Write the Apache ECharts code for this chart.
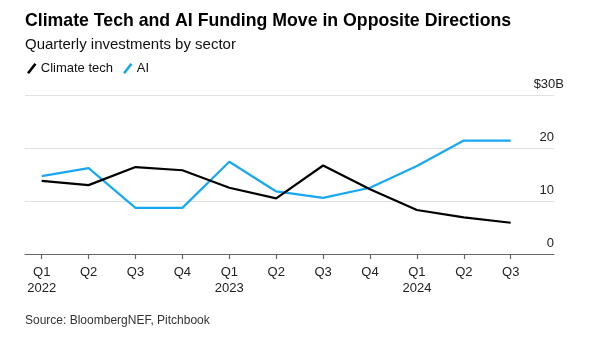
<!DOCTYPE html>
<html><head><meta charset="utf-8">
<script src="https://cdn.jsdelivr.net/npm/echarts@6/dist/echarts.min.js"></script>
<style>html,body{margin:0;padding:0;background:#fff}#c{width:600px;height:345px}</style>
</head><body><div id="c"></div>
<script>
const quarters = ['Q1','Q2','Q3','Q4','Q1','Q2','Q3','Q4','Q1','Q2','Q3'];
const years = ['2022','','','','2023','','','','2024','',''];
const climateTech = [13.8, 13.0, 16.4, 15.8, 12.5, 10.5, 16.7, 12.2, 8.3, 6.9, 5.9];
const ai = [14.7, 16.2, 8.7, 8.7, 17.4, 11.8, 10.6, 12.5, 16.6, 21.4, 21.4];
const yTicks = [0, 10, 20, 30];

const cats = quarters.map((q, i) => years[i] ? q + '\n' + years[i] : q);
const FONT = '"Liberation Sans", Arial, sans-serif';
const slash = 'path://M0,9 L7,0 L9,1.4 L2,10.4 Z';

const chart = echarts.init(document.getElementById('c'), null, {renderer: 'canvas'});
chart.setOption({
  animation: false,
  textStyle: {fontFamily: FONT},
  title: [
    {text: 'Climate Tech and AI Funding Move in Opposite Directions', left: 25, top: 12, padding: 0,
     textStyle: {fontFamily: FONT, fontSize: 17.7, fontWeight: 'bold', color: '#000'}},
    {text: 'Quarterly investments by sector', left: 25, top: 37, padding: 0,
     textStyle: {fontFamily: FONT, fontSize: 15, fontWeight: 'normal', color: '#111'}},
    {text: 'Source: BloombergNEF, Pitchbook', left: 25, top: 315, padding: 0,
     textStyle: {fontFamily: FONT, fontSize: 12, fontWeight: 'normal', color: '#333'}}
  ],
  legend: {
    left: 22, top: 57, itemWidth: 10, itemHeight: 11, itemGap: 10,
    textStyle: {fontFamily: FONT, fontSize: 13, color: '#111', padding: [0, 0, 0, -1]},
    data: [
      {name: 'Climate tech', icon: slash, itemStyle: {color: '#000'}},
      {name: 'AI', icon: slash, itemStyle: {color: '#18a8f1'}}
    ]
  },
  grid: [
    {left: 25, right: 46, top: 95, height: 159},
    {left: 41.7, right: 89.3, top: 95, height: 159}
  ],
  xAxis: [
    {gridIndex: 0, type: 'value', min: 0, max: 1,
     axisLine: {show: true, lineStyle: {color: '#666', width: 1.2}},
     axisTick: {show: false}, axisLabel: {show: false}, splitLine: {show: false}},
    {gridIndex: 1, type: 'category', data: cats, boundaryGap: false,
     axisLine: {show: false},
     axisTick: {show: true, length: 5, lineStyle: {color: '#666', width: 1.2}},
     axisLabel: {color: '#222', fontSize: 13, margin: 10, lineHeight: 16, fontFamily: FONT},
     splitLine: {show: false}}
  ],
  yAxis: [
    {gridIndex: 0, type: 'value', position: 'right', min: yTicks[0], max: yTicks[yTicks.length - 1], interval: 10,
     axisLine: {show: false}, axisTick: {show: false},
     splitLine: {show: true, lineStyle: {color: '#e0e0e0', width: 1.2}},
     axisLabel: {inside: true, margin: 0, align: 'right', verticalAlign: 'bottom', padding: [0, 0, 4, 0],
       color: '#222', fontSize: 13, fontFamily: FONT,
       formatter: v => v === 30 ? '{t|$30B}' : String(v),
       rich: {t: {fontSize: 13, color: '#222', fontFamily: FONT, padding: [0, -10, 0, 0]}}}},
    {gridIndex: 1, type: 'value', min: 0, max: 30, show: false}
  ],
  series: [
    {name: 'Climate tech', type: 'line', xAxisIndex: 1, yAxisIndex: 1, data: climateTech,
     symbol: 'none', lineStyle: {color: '#000', width: 2.2}, itemStyle: {color: '#000'}, z: 3},
    {name: 'AI', type: 'line', xAxisIndex: 1, yAxisIndex: 1, data: ai,
     symbol: 'none', lineStyle: {color: '#18a8f1', width: 2.2}, itemStyle: {color: '#18a8f1'}, z: 2}
  ]
});
</script></body></html>
